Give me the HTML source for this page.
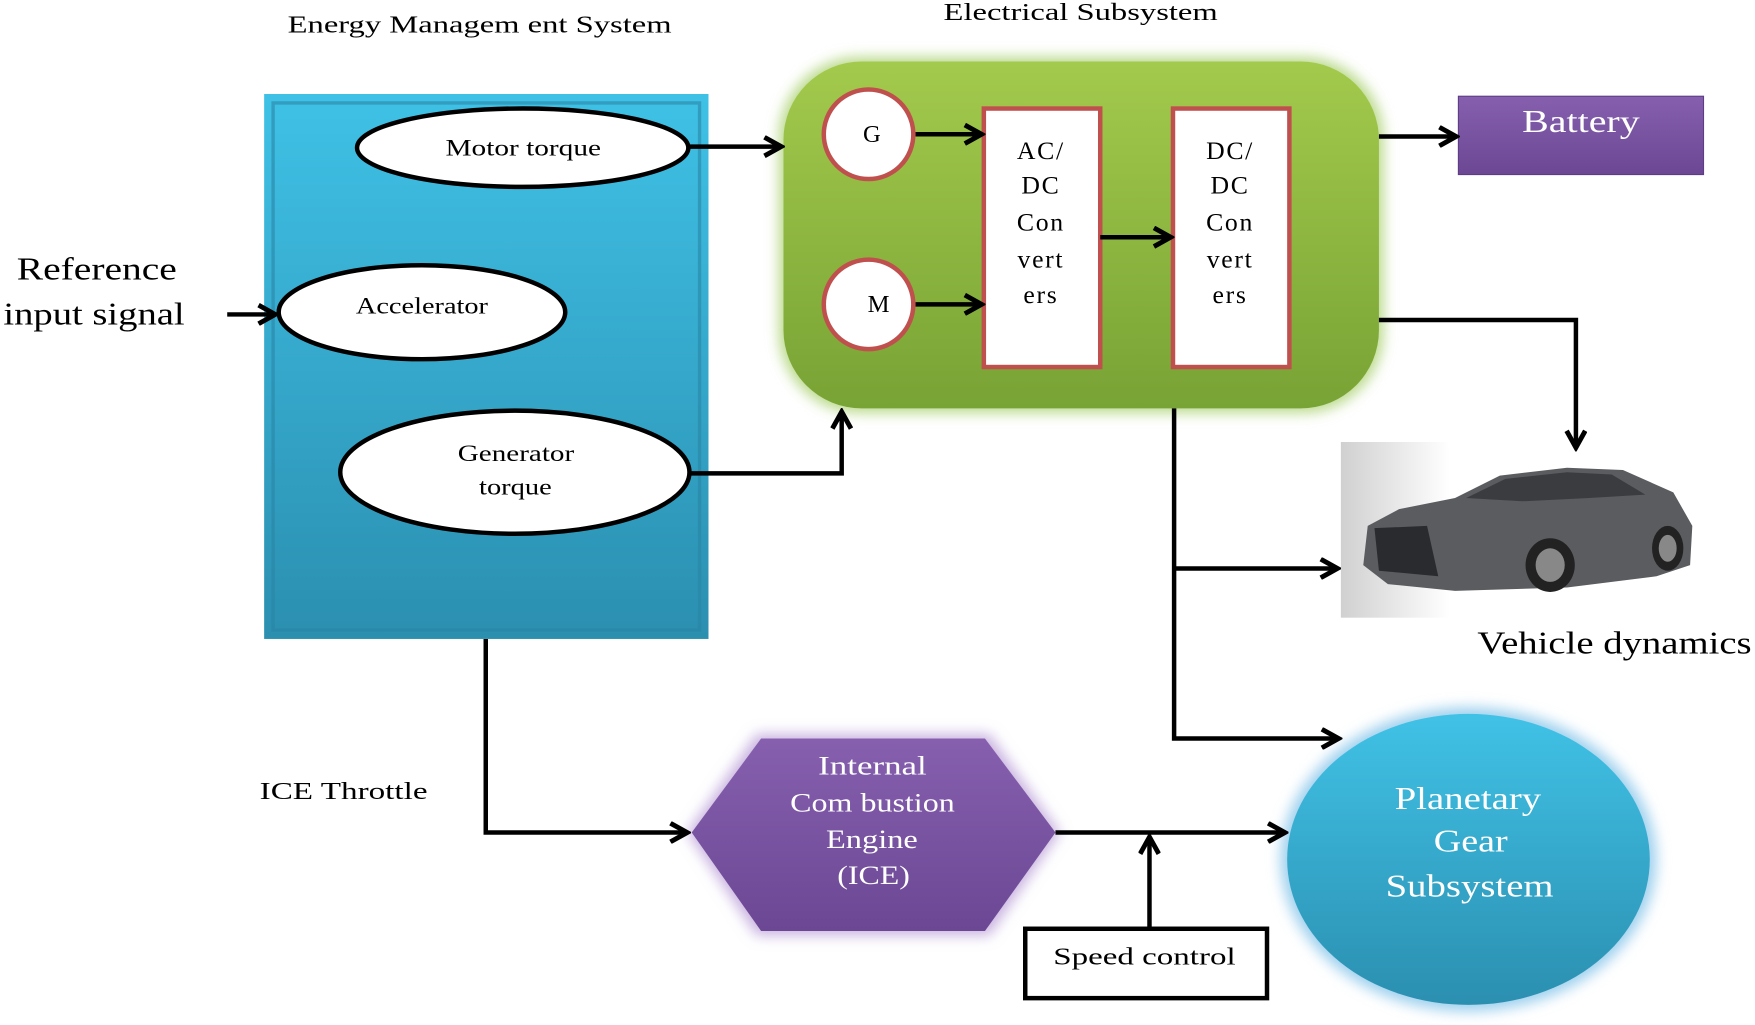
<!DOCTYPE html>
<html><head><meta charset="utf-8"><style>
html,body{margin:0;padding:0;background:#fff;}
svg{display:block;}
text{font-family:"Liberation Serif",serif;}
</style></head><body>
<svg width="1755" height="1025" viewBox="0 0 1568 916" preserveAspectRatio="none" xmlns="http://www.w3.org/2000/svg">
<defs>
<linearGradient id="blue" x1="0" y1="0" x2="0" y2="1"><stop offset="0" stop-color="#3fc1e6"/><stop offset="1" stop-color="#2b8fb0"/></linearGradient>
<linearGradient id="green" x1="0" y1="0" x2="0" y2="1"><stop offset="0" stop-color="#a3ca4c"/><stop offset="1" stop-color="#78a335"/></linearGradient>
<linearGradient id="purple" x1="0" y1="0" x2="0" y2="1"><stop offset="0" stop-color="#8660ae"/><stop offset="1" stop-color="#6b4794"/></linearGradient>
<linearGradient id="pg" x1="0" y1="0" x2="0" y2="1"><stop offset="0" stop-color="#40c2e6"/><stop offset="1" stop-color="#2b8fb0"/></linearGradient>
<linearGradient id="carbg" x1="0" y1="0" x2="1" y2="0"><stop offset="0" stop-color="#d0d0d0"/><stop offset="0.3" stop-color="#fff"/><stop offset="1" stop-color="#fff"/></linearGradient>
<filter id="glow" x="-20%" y="-20%" width="140%" height="140%"><feGaussianBlur stdDeviation="6"/></filter>
<marker id="ah" viewBox="0 0 12 12" refX="10" refY="6" markerWidth="5" markerHeight="5" orient="auto" markerUnits="strokeWidth"><path d="M1,1 L10,6 L1,11" fill="none" stroke="#000" stroke-width="2.6"/></marker>
</defs>

<text x="257" y="29" font-size="22" textLength="343" lengthAdjust="spacingAndGlyphs">Energy Managem ent System</text>
<text x="843" y="18" font-size="22" textLength="245" lengthAdjust="spacingAndGlyphs">Electrical Subsystem</text>

<!-- EMS -->
<rect x="236" y="84" width="397" height="487" fill="url(#blue)"/>
<rect x="244" y="92" width="381" height="471" fill="none" stroke="#2a85a5" stroke-width="3" opacity="0.6"/>
<ellipse cx="467" cy="132" rx="148" ry="35" fill="#fff" stroke="#000" stroke-width="4"/>
<text x="398" y="139" font-size="21" textLength="139" lengthAdjust="spacingAndGlyphs">Motor torque</text>
<ellipse cx="377" cy="279" rx="128" ry="42" fill="#fff" stroke="#000" stroke-width="4"/>
<text x="318" y="280" font-size="21" textLength="118" lengthAdjust="spacingAndGlyphs">Accelerator</text>
<ellipse cx="460" cy="422" rx="156" ry="55" fill="#fff" stroke="#000" stroke-width="4"/>
<text x="409" y="412" font-size="21" textLength="104" lengthAdjust="spacingAndGlyphs">Generator</text>
<text x="428" y="442" font-size="21" textLength="65" lengthAdjust="spacingAndGlyphs">torque</text>

<text x="15" y="250" font-size="28" textLength="143" lengthAdjust="spacingAndGlyphs">Reference</text>
<text x="3" y="290" font-size="28" textLength="162" lengthAdjust="spacingAndGlyphs">input signal</text>

<!-- green -->
<rect x="696" y="51" width="540" height="318" rx="72" fill="#b9d98a" filter="url(#glow)"/>
<rect x="700" y="55" width="532" height="310" rx="70" fill="url(#green)"/>
<circle cx="776" cy="120" r="40" fill="#fff" stroke="#c0504d" stroke-width="4"/>
<text x="779" y="127" font-size="22" text-anchor="middle">G</text>
<circle cx="776" cy="272" r="40" fill="#fff" stroke="#c0504d" stroke-width="4"/>
<text x="785" y="279" font-size="22" text-anchor="middle">M</text>
<rect x="879" y="97" width="104" height="231" fill="#fff" stroke="#c0504d" stroke-width="4"/>
<rect x="1048" y="97" width="104" height="231" fill="#fff" stroke="#c0504d" stroke-width="4"/>
<g font-size="23" text-anchor="middle" letter-spacing="1.5">
<text x="930" y="142">AC/</text><text x="930" y="173">DC</text><text x="930" y="206">Con</text><text x="930" y="239">vert</text><text x="930" y="271">ers</text>
<text x="1099" y="142">DC/</text><text x="1099" y="173">DC</text><text x="1099" y="206">Con</text><text x="1099" y="239">vert</text><text x="1099" y="271">ers</text>
</g>

<!-- battery -->
<rect x="1303" y="86" width="219" height="70" fill="url(#purple)" stroke="#5e3d85" stroke-width="1"/>
<text x="1360" y="118" font-size="28" fill="#fff" textLength="105" lengthAdjust="spacingAndGlyphs">Battery</text>

<!-- car -->
<rect x="1198" y="395" width="324" height="157" fill="url(#carbg)"/>
<g>
<path d="M1218,505 L1222,470 L1250,455 L1300,445 L1340,425 L1400,418 L1450,420 L1495,440 L1512,470 L1510,505 L1480,515 L1400,525 L1300,528 L1240,522 Z" fill="#5a5c60"/>
<path d="M1310,445 L1345,428 L1400,422 L1440,424 L1470,442 L1420,445 L1360,448 Z" fill="#3a3c40"/>
<path d="M1228,472 L1275,470 L1285,515 L1232,510 Z" fill="#2a2b2e"/>
<ellipse cx="1385" cy="505" rx="22" ry="24" fill="#222"/>
<ellipse cx="1385" cy="505" rx="13" ry="15" fill="#888"/>
<ellipse cx="1490" cy="490" rx="14" ry="20" fill="#222"/>
<ellipse cx="1490" cy="490" rx="8" ry="12" fill="#888"/>
</g>
<text x="1320" y="584" font-size="28" textLength="245" lengthAdjust="spacingAndGlyphs">Vehicle dynamics</text>

<!-- ICE -->
<polygon points="614,744 676,656 884,656 947,744 884,836 676,836" fill="#c9b3e0" filter="url(#glow)"/>
<polygon points="618,744 680,660 880,660 943,744 880,832 680,832" fill="url(#purple)"/>
<g font-size="24" fill="#fff">
<text x="731" y="692" textLength="97" lengthAdjust="spacingAndGlyphs">Internal</text>
<text x="706" y="725" textLength="147" lengthAdjust="spacingAndGlyphs">Com bustion</text>
<text x="738" y="758" textLength="82" lengthAdjust="spacingAndGlyphs">Engine</text>
<text x="748" y="790" textLength="65" lengthAdjust="spacingAndGlyphs">(ICE)</text>
</g>
<text x="232" y="714" font-size="22" textLength="150" lengthAdjust="spacingAndGlyphs">ICE Throttle</text>

<!-- planetary -->
<ellipse cx="1312" cy="768" rx="168" ry="136" fill="#9fd0ee" filter="url(#glow)"/>
<ellipse cx="1312" cy="768" rx="162" ry="130" fill="url(#pg)"/>
<g font-size="28" fill="#fff">
<text x="1246" y="723" textLength="131" lengthAdjust="spacingAndGlyphs">Planetary</text>
<text x="1281" y="761" textLength="66" lengthAdjust="spacingAndGlyphs">Gear</text>
<text x="1238" y="801" textLength="150" lengthAdjust="spacingAndGlyphs">Subsystem</text>
</g>

<rect x="916" y="830" width="216" height="62" fill="#fff" stroke="#000" stroke-width="4"/>
<text x="941" y="862" font-size="22" textLength="163" lengthAdjust="spacingAndGlyphs">Speed control</text>

<!-- connectors -->
<g stroke="#000" stroke-width="4" fill="none" marker-end="url(#ah)">
<path d="M203,281 H246"/>
<path d="M615,131 H698"/>
<path d="M616,423 H752 V368"/>
<path d="M818,120 H877"/>
<path d="M818,272 H877"/>
<path d="M983,212 H1046"/>
<path d="M1232,122 H1301"/>
<path d="M1232,286 H1408 V400"/>
<path d="M1049,508 H1195"/>
<path d="M1049,365 V660 H1196"/>
<path d="M434,571 V744 H614"/>
<path d="M943,744 H1148"/>
<path d="M1027,830 V748"/>
</g>
</svg>
</body></html>
